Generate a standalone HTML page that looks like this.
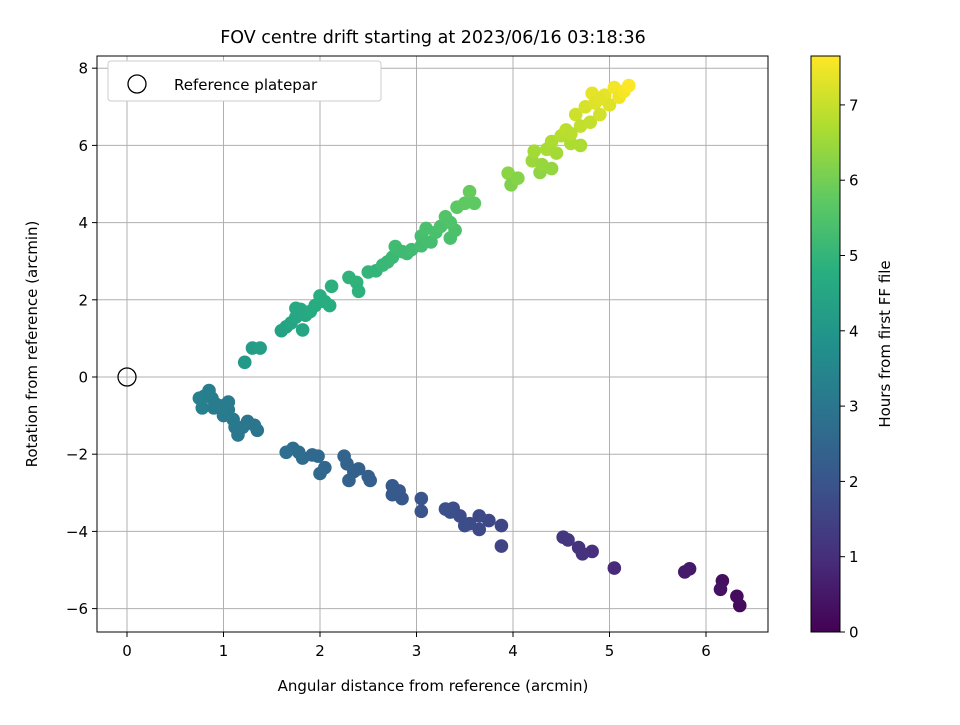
<!DOCTYPE html>
<html><head><meta charset="utf-8"><style>
body{margin:0;background:#fff;font-family:"Liberation Sans","DejaVu Sans",sans-serif}
svg text{font-family:"DejaVu Sans","Liberation Sans",sans-serif;fill:#000}
</style></head><body>
<svg id="chart" width="960" height="720" viewBox="0 0 960 720" xmlns="http://www.w3.org/2000/svg">
<defs><linearGradient id="vir" x1="0" y1="1" x2="0" y2="0">
<stop offset="0" stop-color="#440154"/><stop offset="0.125" stop-color="#472d7b"/><stop offset="0.25" stop-color="#3b528b"/><stop offset="0.375" stop-color="#2c728e"/><stop offset="0.5" stop-color="#21918c"/><stop offset="0.625" stop-color="#28ae80"/><stop offset="0.75" stop-color="#5ec962"/><stop offset="0.875" stop-color="#addc30"/><stop offset="1" stop-color="#fde725"/></linearGradient>
<clipPath id="pc"><rect x="97" y="56" width="671" height="576"/></clipPath></defs>
<text x="433" y="43" font-size="17.5" text-anchor="middle">FOV centre drift starting at 2023/06/16 03:18:36</text>
<g id="grid"></g><g id="pts" clip-path="url(#pc)"></g>
<rect x="97" y="56" width="671" height="576" fill="none" stroke="#000" stroke-width="1"/>
<g id="ticks"></g>
<text x="433" y="691" font-size="15" text-anchor="middle">Angular distance from reference (arcmin)</text>
<text transform="translate(37,344) rotate(-90)" font-size="15" text-anchor="middle">Rotation from reference (arcmin)</text>
<g>
<rect x="108" y="61" width="273" height="40" rx="3" fill="#fff" stroke="#ccc"/>
<circle cx="137" cy="84" r="9" fill="none" stroke="#000" stroke-width="1.3"/>
<text x="174" y="90" font-size="15">Reference platepar</text></g>
<rect x="811" y="56" width="29" height="576" fill="url(#vir)" stroke="#000"/>
<g id="cticks"></g>
<text transform="translate(890,344) rotate(-90)" font-size="15" text-anchor="middle">Hours from first FF file</text>
</svg>
<script>
const xs=[6.35,6.32,6.17,6.15,5.83,5.78,5.05,4.82,4.72,4.68,4.57,4.52,3.88,3.88,3.75,3.65,3.65,3.55,3.5,3.45,3.38,3.35,3.3,3.05,3.05,2.85,2.82,2.75,2.75,2.52,2.5,2.4,2.35,2.3,2.28,2.25,2.05,2.0,1.98,1.92,1.82,1.78,1.72,1.65,1.35,1.32,1.25,1.2,1.15,1.12,1.1,1.05,1.05,0.98,0.92,0.88,0.85,0.8,0.78,0.75,0.9,1.0,
1.22,1.3,1.38,1.6,1.65,1.7,1.75,1.75,1.8,1.82,1.85,1.9,1.95,2.0,2.05,2.1,2.12,2.3,2.38,2.4,2.5,2.58,2.65,2.7,2.75,2.78,2.85,2.9,2.95,3.05,3.05,3.1,3.15,3.2,3.25,3.3,3.35,3.4,3.35,3.42,3.5,3.55,3.6,3.95,3.98,4.05,4.2,4.22,4.28,4.3,4.35,4.4,4.4,4.45,4.5,4.55,4.6,4.65,4.7,4.7,4.75,4.8,4.82,4.85,4.9,4.95,5.0,5.05,5.1,5.15,5.2,4.6,4.9];
const ys=[-5.92,-5.68,-5.28,-5.5,-4.97,-5.05,-4.95,-4.52,-4.58,-4.42,-4.22,-4.15,-4.38,-3.85,-3.72,-3.6,-3.95,-3.8,-3.85,-3.6,-3.4,-3.5,-3.42,-3.48,-3.15,-3.15,-2.95,-2.82,-3.05,-2.68,-2.58,-2.38,-2.45,-2.68,-2.25,-2.05,-2.35,-2.5,-2.05,-2.02,-2.1,-1.95,-1.85,-1.95,-1.38,-1.25,-1.15,-1.3,-1.5,-1.3,-1.1,-0.85,-0.65,-0.75,-0.7,-0.55,-0.35,-0.5,-0.8,-0.55,-0.8,-1.0,
0.38,0.75,0.75,1.2,1.3,1.4,1.55,1.78,1.75,1.22,1.6,1.7,1.85,2.1,1.95,1.85,2.35,2.58,2.45,2.22,2.72,2.75,2.9,2.98,3.1,3.38,3.25,3.2,3.3,3.4,3.65,3.85,3.5,3.75,3.9,4.15,3.6,3.8,4.0,4.4,4.5,4.8,4.5,5.28,4.98,5.15,5.6,5.85,5.3,5.5,5.9,6.1,5.4,5.8,6.25,6.4,6.05,6.8,6.5,6.0,7.0,6.6,7.35,7.1,6.8,7.3,7.05,7.5,7.25,7.4,7.55,6.3,7.2];
const hrs=[0.2,0.25,0.3,0.35,0.5,0.55,0.9,1.05,1.1,1.12,1.2,1.22,1.55,1.6,1.65,1.7,1.7,1.75,1.78,1.8,1.85,1.85,1.88,2.0,2.0,2.1,2.12,2.15,2.15,2.3,2.3,2.35,2.38,2.4,2.42,2.45,2.55,2.58,2.6,2.62,2.68,2.7,2.72,2.75,2.95,2.97,3.0,3.02,3.05,3.07,3.1,3.12,3.14,3.18,3.2,3.22,3.25,3.28,3.3,3.32,3.2,3.15,
4.1,4.2,4.25,4.4,4.45,4.5,4.55,4.6,4.6,4.5,4.6,4.65,4.7,4.8,4.75,4.75,4.85,4.95,4.95,4.9,5.0,5.02,5.1,5.12,5.15,5.25,5.22,5.2,5.25,5.3,5.35,5.42,5.35,5.4,5.45,5.55,5.4,5.45,5.5,5.7,5.75,5.85,5.75,6.3,6.15,6.25,6.5,6.6,6.35,6.45,6.65,6.7,6.4,6.6,6.8,6.9,6.7,7.1,6.95,6.7,7.2,7.0,7.4,7.3,7.15,7.4,7.3,7.55,7.5,7.6,7.65,6.85,7.35];
const xTicks=[0,1,2,3,4,5,6], yTicks=[-6,-4,-2,0,2,4,6,8], cTicks=[0,1,2,3,4,5,6,7];
const X=v=>127+v*96.5, Y=v=>377-v*38.6, C=v=>632-v*75.3;
const vir=[[68,1,84],[72,45,123],[59,82,139],[44,114,142],[33,145,140],[40,174,128],[94,201,98],[173,220,48],[253,231,37]];
function col(h){let t=Math.max(0,Math.min(1,h/7.67))*8,i=Math.min(7,Math.floor(t)),f=t-i;const a=vir[i],b=vir[i+1];return `rgb(${a.map((v,k)=>Math.round(v+(b[k]-v)*f)).join(',')})`;}
const NS='http://www.w3.org/2000/svg';
function mk(tag,attrs,parent){const e=document.createElementNS(NS,tag);for(const k in attrs)e.setAttribute(k,attrs[k]);document.getElementById(parent).appendChild(e);return e;}
xTicks.forEach(v=>{const x=X(v);
 let g=mk('line',{x1:x,x2:x,y1:56,y2:632,stroke:'#b0b0b0','stroke-width':1},'grid');
 let t=mk('line',{x1:x,x2:x,y1:632,y2:637,stroke:'#000'},'ticks');
 let l=mk('text',{x:x,y:656,'font-size':15,'text-anchor':'middle'},'ticks');l.textContent=v;});
yTicks.forEach(v=>{const y=Y(v);
 let g=mk('line',{x1:97,x2:768,y1:y,y2:y,stroke:'#b0b0b0','stroke-width':1},'grid');
 let t=mk('line',{x1:92,x2:97,y1:y,y2:y,stroke:'#000'},'ticks');
 let l=mk('text',{x:88,y:y+5.5,'font-size':15,'text-anchor':'end'},'ticks');l.textContent=v<0?'\u2212'+(-v):v;});
cTicks.forEach(v=>{const y=C(v);
 let t=mk('line',{x1:840,x2:845,y1:y,y2:y,stroke:'#000'},'cticks');
 let l=mk('text',{x:849,y:y+5.5,'font-size':15},'cticks');l.textContent=v;});
xs.forEach((v,i)=>{let c=mk('circle',{cx:X(v),cy:Y(ys[i]),r:6.8,fill:col(hrs[i])},'pts');});
let r=mk('circle',{cx:X(0),cy:Y(0),r:9,fill:'none',stroke:'#000','stroke-width':1.3},'pts');


</script>
</body></html>
